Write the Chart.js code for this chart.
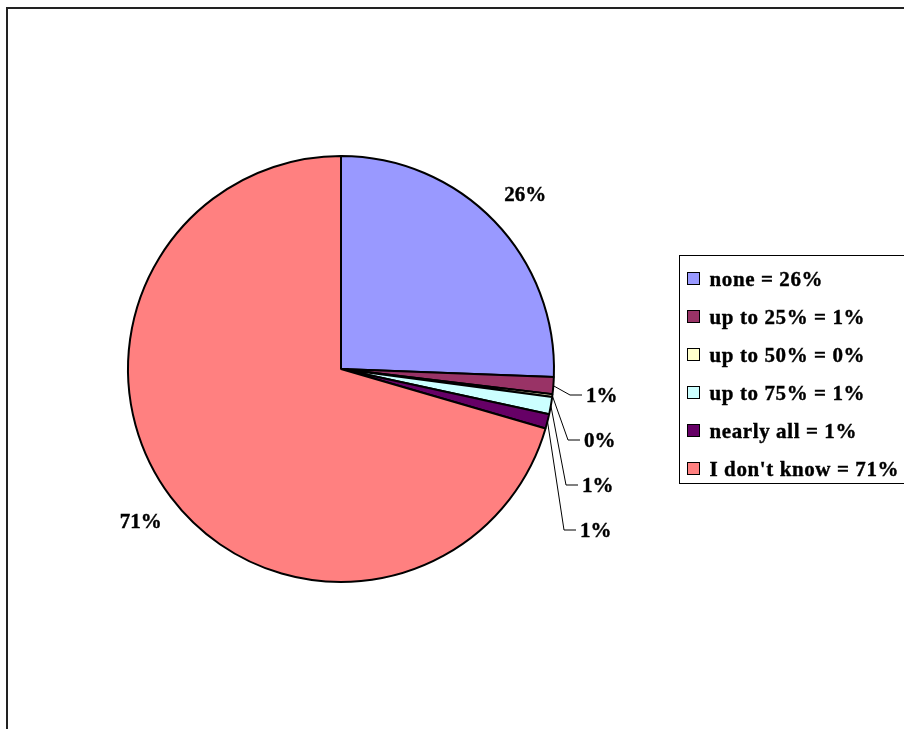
<!DOCTYPE html>
<html>
<head>
<meta charset="utf-8">
<title>Pie</title>
<script src="https://cdn.jsdelivr.net/npm/chart.js@4.4.0/dist/chart.umd.min.js"></script>
<style>
  html, body { margin: 0; padding: 0; background: #fff; }
</style>
</head>
<body>
<canvas id="pieChart" width="904" height="729"></canvas>
<script>
const categories = ['none', 'up to 25%', 'up to 50%', 'up to 75%', 'nearly all', "I don't know"];
const shares = [25.6, 1.3, 0.2, 1.3, 1.1, 70.5];
const sliceColors = ['#9999FF', '#993366', '#FFFFCC', '#CCFFFF', '#660066', '#FF8080'];

const total = shares.reduce((a, b) => a + b, 0);
const pct = v => Math.round(v * 100 / total) + '%';
const labelFont = 'bold 21px "Liberation Serif", "Times New Roman", serif';

// text drawn with a hairline stroke so it reads as heavy as the old GDI bold
function heavyText(ctx, txt, x, y) {
  ctx.fillText(txt, x, y);
  ctx.strokeText(txt, x, y);
}

// outer frame, left + top edge only
const frame = {
  id: 'frame',
  beforeDraw(chart) {
    const ctx = chart.ctx;
    ctx.save();
    ctx.fillStyle = '#222';
    ctx.fillRect(6, 7, 2, chart.height - 7);
    ctx.fillRect(6, 7, chart.width - 6, 2);
    ctx.restore();
  }
};

// percent labels: big slices get a floating label, thin ones a leader line
const outsideLabels = {
  id: 'outsideLabels',
  afterDatasetsDraw(chart) {
    const ctx = chart.ctx;
    const arcs = chart.getDatasetMeta(0).data;
    ctx.save();
    ctx.font = labelFont;
    ctx.fillStyle = '#000';
    ctx.strokeStyle = '#000';
    ctx.textBaseline = 'alphabetic';
    let k = 0;
    arcs.forEach((arc, i) => {
      const { x, y, startAngle, endAngle, outerRadius } =
        arc.getProps(['x', 'y', 'startAngle', 'endAngle', 'outerRadius'], true);
      const mid = (startAngle + endAngle) / 2;
      ctx.lineWidth = 0.4;
      if (shares[i] / total > 0.05) {
        const r = outerRadius + 40;
        ctx.textAlign = 'center';
        heavyText(ctx, pct(shares[i]), x + Math.cos(mid) * r + 2, y + Math.sin(mid) * r + 7);
      } else {
        const ex = x + Math.cos(mid) * outerRadius;
        const ey = y + Math.sin(mid) * outerRadius;
        const ty = y + 26 + k * 45;
        const tx = x + outerRadius + 32 - k * 2;
        ctx.lineWidth = 1;
        ctx.beginPath();
        ctx.moveTo(ex, ey);
        ctx.lineTo(tx - 16, ty);
        ctx.lineTo(tx - 4, ty);
        ctx.stroke();
        ctx.lineWidth = 0.4;
        ctx.textAlign = 'left';
        heavyText(ctx, pct(shares[i]), tx, ty + 7);
        k++;
      }
    });
    ctx.restore();
  }
};

// boxed legend on the right
const boxLegend = {
  id: 'boxLegend',
  afterDraw(chart) {
    const ctx = chart.ctx;
    const left = 679.5, top = 255.5, rowH = 38;
    ctx.save();
    ctx.strokeStyle = '#000';
    ctx.lineWidth = 1;
    ctx.strokeRect(left, top, 240, 228);
    ctx.font = labelFont;
    ctx.letterSpacing = '0.6px';
    ctx.textAlign = 'left';
    categories.forEach((c, i) => {
      const cy = top + 23 + i * rowH;
      ctx.lineWidth = 1;
      ctx.fillStyle = sliceColors[i];
      ctx.fillRect(left + 8, cy - 6, 12, 12);
      ctx.strokeRect(left + 8, cy - 6, 12, 12);
      ctx.fillStyle = '#000';
      ctx.lineWidth = 0.4;
      heavyText(ctx, c + ' = ' + pct(shares[i]), left + 30, cy + 7);
    });
    ctx.restore();
  }
};

const ctx = document.getElementById('pieChart').getContext('2d');

const pieChart = new Chart(ctx, {
  type: 'pie',
  data: {
    labels: categories,
    datasets: [{
      data: shares,
      backgroundColor: sliceColors,
      borderColor: '#000',
      borderWidth: 2
    }]
  },
  options: {
    responsive: false,
    animation: false,
    layout: {
      padding: { left: 127, right: 349, top: 155, bottom: 146 }
    },
    plugins: {
      legend: { display: false },
      tooltip: { enabled: false }
    }
  },
  plugins: [frame, outsideLabels, boxLegend]
});
</script>
</body>
</html>
